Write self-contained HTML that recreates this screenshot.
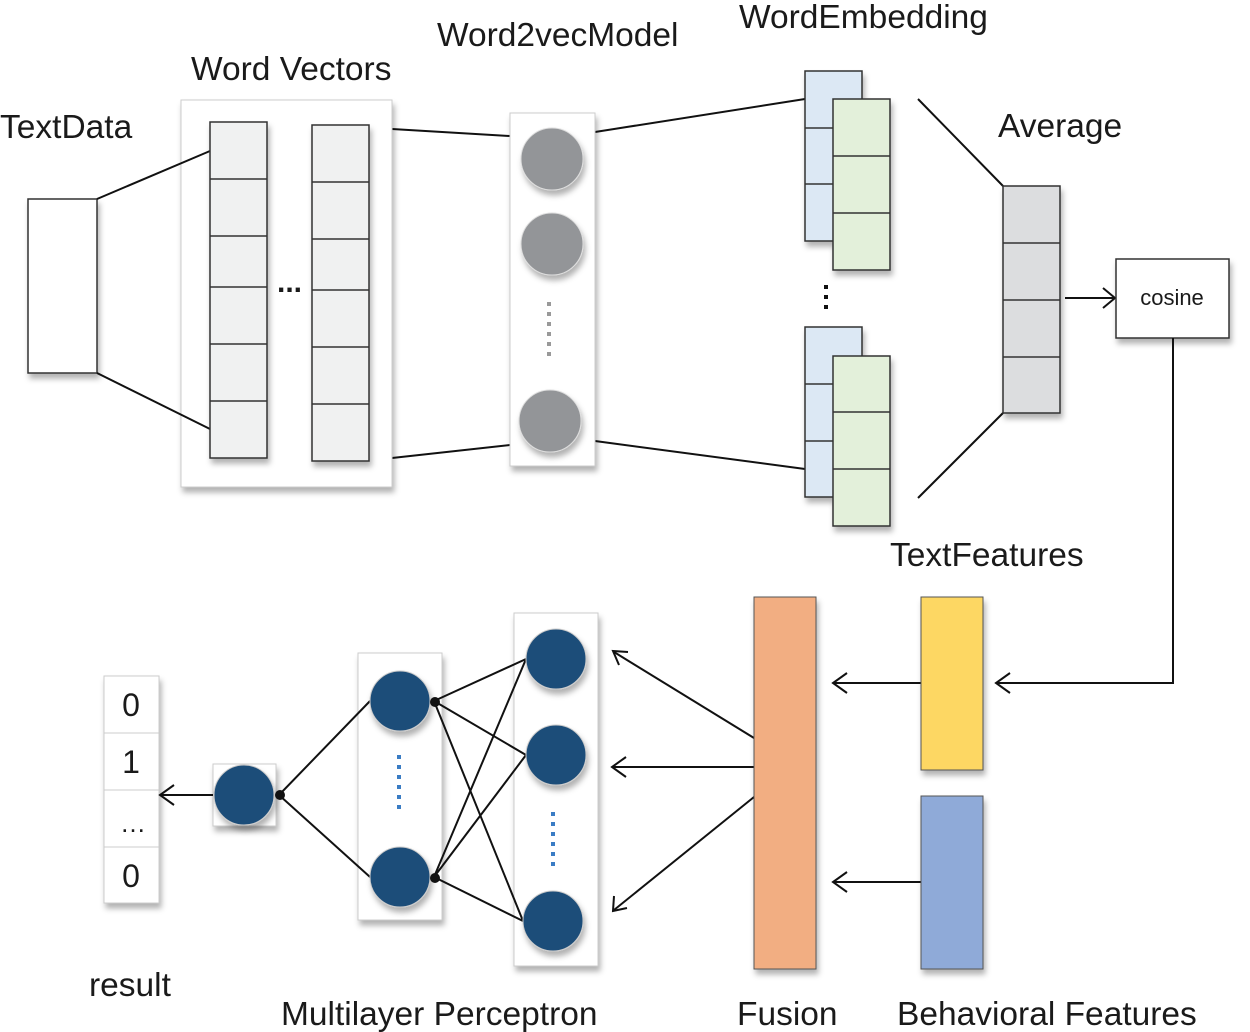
<!DOCTYPE html>
<html><head><meta charset="utf-8"><style>body{margin:0;background:#fff}svg{display:block}text{font-family:"Liberation Sans",sans-serif;fill:#1a1a1a}</style></head><body>
<svg width="1250" height="1032" viewBox="0 0 1250 1032" xmlns="http://www.w3.org/2000/svg">
<defs><filter id="sh" x="-20%" y="-20%" width="140%" height="140%"><feDropShadow dx="2" dy="5" stdDeviation="3" flood-color="#000" flood-opacity="0.3"/></filter></defs>
<g font-size="33.5">
<text x="0" y="138">TextData</text>
<text x="191" y="80">Word Vectors</text>
<text x="437" y="46">Word2vecModel</text>
<text x="739" y="28">WordEmbedding</text>
<text x="998" y="137">Average</text>
<text x="890" y="566">TextFeatures</text>
<text x="89" y="996">result</text>
<text x="281" y="1025">Multilayer Perceptron</text>
<text x="737" y="1025">Fusion</text>
<text x="897" y="1025">Behavioral Features</text>
</g>
<g stroke="#111" stroke-width="2" fill="none">
<line x1="392" y1="129" x2="510" y2="136"/><line x1="392" y1="458" x2="510" y2="445"/>
<line x1="595" y1="132" x2="805" y2="99"/><line x1="595" y1="441" x2="805" y2="469"/>
<line x1="918" y1="99" x2="1003" y2="186"/><line x1="918" y1="498" x2="1003" y2="413"/>
</g>
<rect x="28" y="199" width="69" height="174" fill="#fff" stroke="#333" stroke-width="1.5" filter="url(#sh)"/>
<rect x="181" y="100" width="211" height="387" fill="#fff" stroke="#ccc" filter="url(#sh)"/>
<g stroke="#111" stroke-width="2" fill="none">
<line x1="97" y1="199" x2="210" y2="151"/><line x1="97" y1="373" x2="210" y2="429"/></g>
<g fill="#f0f1f1" stroke="#333" stroke-width="1.5" filter="url(#sh)">
<rect x="210" y="122" width="57" height="336"/><rect x="312" y="125" width="57" height="336"/></g>
<g stroke="#333" stroke-width="1.5"><path d="M210 179H267M210 236H267M210 287H267M210 344H267M210 401H267M312 182H369M312 239H369M312 290H369M312 347H369M312 404H369"/></g>
<text x="277" y="292" font-size="30" font-weight="bold">...</text>
<rect x="510" y="113" width="85" height="353" fill="#fff" stroke="#ccc" filter="url(#sh)"/>
<g fill="#939598" stroke="#ddd" filter="url(#sh)"><circle cx="552" cy="159" r="31"/><circle cx="552" cy="244" r="31"/><circle cx="550" cy="421" r="31"/></g>
<line x1="549" y1="302" x2="549" y2="362" stroke="#999" stroke-width="4" stroke-dasharray="4,6"/>
<g stroke="#333" stroke-width="1.5" filter="url(#sh)">
<rect x="805" y="71" width="57" height="170" fill="#dce8f4"/><rect x="833" y="99" width="57" height="171" fill="#e3f0da"/>
<rect x="805" y="327" width="57" height="170" fill="#dce8f4"/><rect x="833" y="356" width="57" height="170" fill="#e3f0da"/>
<rect x="1003" y="186" width="57" height="227" fill="#dcdddf"/></g>
<path d="M805 128H833M805 184H833M833 156H890M833 213H890M805 384H833M805 441H833M833 412H890M833 469H890M1003 243H1060M1003 300H1060M1003 357H1060" stroke="#333" stroke-width="1.5"/>
<line x1="826" y1="285" x2="826" y2="312" stroke="#111" stroke-width="4" stroke-dasharray="4,6"/>
<line x1="1065" y1="298" x2="1115" y2="298" stroke="#111" stroke-width="2"/>
<path d="M1103,288 L1115,298 L1103,308" fill="none" stroke="#111" stroke-width="2"/>
<rect x="1116" y="259" width="113" height="79" fill="#fff" stroke="#333" stroke-width="1.5" filter="url(#sh)"/>
<text x="1172" y="305" font-size="22" text-anchor="middle">cosine</text>
<g stroke="#111" stroke-width="2" fill="none">
<polyline points="1173,338 1173,683 996,683"/><path d="M1010,673 L996,683 L1010,693"/>
<line x1="921" y1="683" x2="833" y2="683"/><path d="M847,673 L833,683 L847,693"/>
<line x1="921" y1="882" x2="833" y2="882"/><path d="M847,872 L833,882 L847,892"/>
<line x1="754" y1="738" x2="614" y2="652"/><path d="M628,652 L613,651 L619,665"/>
<line x1="754" y1="767" x2="612" y2="767"/><path d="M626,757 L612,767 L626,777"/>
<line x1="754" y1="797" x2="614" y2="910"/><path d="M614,896 L613,911 L627,908"/>
</g>
<g filter="url(#sh)">
<rect x="921" y="597" width="62" height="173" fill="#fdd764" stroke="#555"/>
<rect x="921" y="796" width="62" height="173" fill="#8faad8" stroke="#555"/>
<rect x="754" y="597" width="62" height="372" fill="#f2ae82" stroke="#555"/>
<rect x="514" y="613" width="84" height="353" fill="#fff" stroke="#ccc"/>
<rect x="358" y="653" width="84" height="267" fill="#fff" stroke="#ccc"/>
<rect x="213" y="764" width="63" height="62" fill="#fff" stroke="#ccc"/>
<rect x="104" y="676" width="55" height="227" fill="#fff" stroke="#ccc"/>
</g>
<path d="M104 733H159M104 790H159M104 847H159" stroke="#ccc"/>
<g font-size="32" text-anchor="middle"><text x="131" y="716">0</text><text x="131" y="773">1</text><text x="131" y="887">0</text></g>
<text x="133" y="832" font-size="26" text-anchor="middle">…</text>
<g stroke="#111" stroke-width="2" fill="none">
<line x1="213" y1="795" x2="160" y2="795"/><path d="M174,785 L160,795 L174,805"/>
<line x1="279" y1="795" x2="370" y2="701"/><line x1="279" y1="795" x2="370" y2="877"/>
<line x1="434" y1="701" x2="526" y2="659"/><line x1="434" y1="701" x2="526" y2="755"/><line x1="434" y1="701" x2="523" y2="921"/>
<line x1="434" y1="877" x2="526" y2="659"/><line x1="434" y1="877" x2="526" y2="755"/><line x1="434" y1="877" x2="523" y2="921"/>
</g>
<g fill="#1f4e79" stroke="#ccc" filter="url(#sh)">
<circle cx="244" cy="795" r="30"/><circle cx="400" cy="701" r="30"/><circle cx="400" cy="877" r="30"/>
<circle cx="556" cy="659" r="30"/><circle cx="556" cy="755" r="30"/><circle cx="553" cy="921" r="30"/></g>
<g fill="#111"><circle cx="280" cy="795" r="5"/><circle cx="435" cy="702" r="5"/><circle cx="435" cy="878" r="5"/></g>
<line x1="399" y1="755" x2="399" y2="814" stroke="#3a7cc4" stroke-width="4" stroke-dasharray="4,6"/>
<line x1="553" y1="812" x2="553" y2="872" stroke="#3a7cc4" stroke-width="4" stroke-dasharray="4,6"/>
</svg>
</body></html>
